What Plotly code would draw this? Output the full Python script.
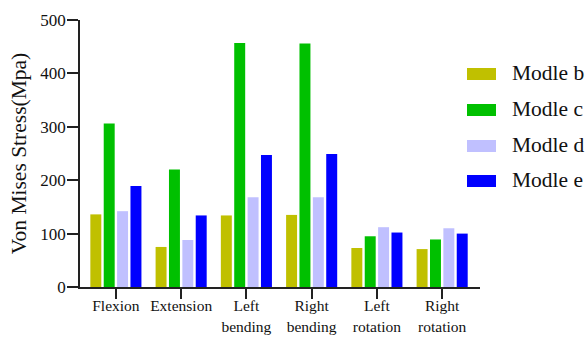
import plotly.graph_objects as go

# Loading cases on the x axis
categories = ["Flexion", "Extension", "Left<br>bending", "Right<br>bending",
              "Left<br>rotation", "Right<br>rotation"]

# Peak von Mises stress (MPa) for each model
modle_b = [136, 75, 134, 135, 73, 71]
modle_c = [306, 220, 457, 456, 95, 89]
modle_d = [142, 88, 168, 168, 112, 110]
modle_e = [189, 134, 247, 249, 102, 100]

series_names = ["Modle b", "Modle c", "Modle d", "Modle e"]
series_values = [modle_b, modle_c, modle_d, modle_e]
series_colors = ["#C0C000", "#00C000", "#C0C0FF", "#0000FF"]

y_ticks = [0, 100, 200, 300, 400, 500]

FONT = "Liberation Serif, Times New Roman, serif"

fig = go.Figure()
for name, vals, col in zip(series_names, series_values, series_colors):
    fig.add_trace(go.Bar(
        name=name,
        x=list(range(len(categories))),
        y=vals,
        marker=dict(color=col, line=dict(width=0)),
        showlegend=False,
    ))

# Hand-built legend on the right: wide swatches with labels
W, H = 587, 337
ml, mr, mt, mb = 80, 107, 20, 50
pw, ph = W - ml - mr, H - mt - mb
row_centers_px = [74, 110, 146, 181]
shapes, annotations = [], []
for name, col, cy in zip(series_names, series_colors, row_centers_px):
    yc = (H - mb - cy) / ph
    shapes.append(dict(type="rect", xref="paper", yref="paper",
                       x0=(467 - ml) / pw, x1=(496 - ml) / pw,
                       y0=yc - 6 / ph, y1=yc + 6 / ph,
                       fillcolor=col, line=dict(width=0)))
    annotations.append(dict(xref="paper", yref="paper",
                            x=(510 - ml) / pw, y=yc + 1 / ph,
                            xanchor="left", yanchor="middle",
                            text=name, showarrow=False,
                            font=dict(family=FONT, size=21.5, color="#111")))

fig.update_layout(
    width=W, height=H,
    margin=dict(l=ml, r=mr, t=mt, b=mb),
    paper_bgcolor="white", plot_bgcolor="white",
    barmode="group", bargap=0.18, bargroupgap=0.18,
    font=dict(family=FONT, color="#111"),
    shapes=shapes, annotations=annotations,
    xaxis=dict(
        tickmode="array", tickvals=list(range(len(categories))),
        ticktext=categories,
        range=[-0.55, 5.58],
        automargin=False,
        showline=True, linecolor="#222", linewidth=1.5,
        ticks="outside", ticklen=10, tickwidth=1.5, tickcolor="#222",
        ticklabelstandoff=-6,
        tickfont=dict(family=FONT, size=15.5, color="#111"),
        showgrid=False, zeroline=False,
    ),
    yaxis=dict(
        range=[0, 500], tickvals=y_ticks,
        automargin=False,
        showline=True, linecolor="#222", linewidth=1.5,
        ticks="outside", ticklen=11, tickwidth=1.5, tickcolor="#222",
        ticklabelstandoff=-2,
        tickfont=dict(family=FONT, size=17, color="#111"),
        showgrid=False, zeroline=False,
        title=dict(text="Von Mises Stress(Mpa)",
                   font=dict(family=FONT, size=21.5, color="#111"),
                   standoff=8),
    ),
)

fig.write_html("out.html")
